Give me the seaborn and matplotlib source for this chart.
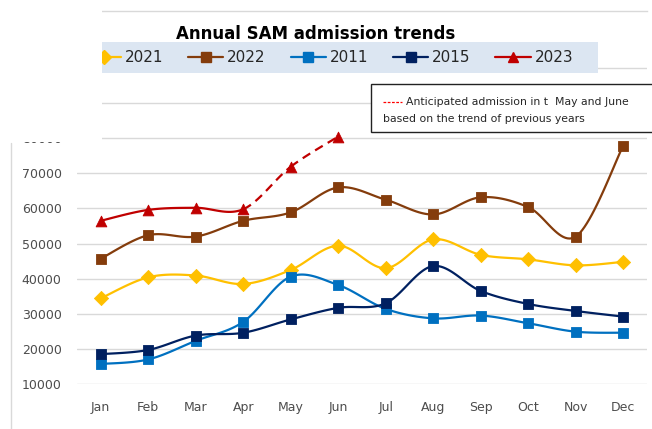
import numpy as np
import seaborn as sns
import matplotlib
matplotlib.use("Agg")
import matplotlib.pyplot as plt
from matplotlib.lines import Line2D
from matplotlib.patches import Rectangle

# values
months = ["Jan", "Feb", "Mar", "Apr", "May", "Jun",
          "Jul", "Aug", "Sep", "Oct", "Nov", "Dec"]
y2021 = [34400, 40400, 40900, 38500, 42500, 49400, 43000, 51200, 46800, 45500, 43800, 44800]
y2022 = [45700, 52400, 52000, 56500, 58900, 66000, 62500, 58300, 63200, 60400, 52000, 77900]
y2011 = [15700, 17000, 22300, 27700, 40600, 38200, 31400, 28700, 29500, 27300, 24900, 24600]
y2015 = [18500, 19700, 23800, 24600, 28400, 31700, 33000, 43600, 36500, 32800, 30800, 29200]
y2023 = [56500, 59600, 60200, 59800, 71900, 80500]
n_actual_2023 = 4  # Jan-Apr measured, May-Jun anticipated
yticks = [10000, 20000, 30000, 40000, 50000, 60000, 70000, 80000, 90000, 100000]

series = [
    ("2021", y2021, "#FFC000", "D"),
    ("2022", y2022, "#843C0C", "s"),
    ("2011", y2011, "#0070C0", "s"),
    ("2015", y2015, "#002060", "s"),
    ("2023", y2023, "#C00000", "^"),
]


def smooth(xv, yv, n=24):
    """Excel-like smoothed line: cubic bezier pieces, one per segment."""
    sy = 10000 * 47.5 / 35.1  # keep x/y scaling close to screen space
    P = np.column_stack([np.asarray(xv, float), np.asarray(yv, float) / sy])
    t = np.linspace(0, 1, n)[:, None]
    pieces = []
    for i in range(len(P) - 1):
        p0 = P[i - 1] if i > 0 else P[i]
        p3 = P[i + 2] if i + 2 < len(P) else P[i + 1]
        c1 = P[i] + (P[i + 1] - p0) / 6
        c2 = P[i + 1] - (p3 - P[i]) / 6
        b = ((1 - t) ** 3) * P[i] + 3 * ((1 - t) ** 2) * t * c1 \
            + 3 * (1 - t) * t ** 2 * c2 + t ** 3 * P[i + 1]
        pieces.append((b[:, 0], b[:, 1] * sy))
    return pieces


sns.set_theme(style="white")
plt.rcParams["font.family"] = ["DejaVu Sans"]

fig = plt.figure(figsize=(6.52, 4.29), dpi=100)
ax = fig.add_axes([77 / 652, 1 - 384 / 429, 570 / 652, (384 - 10.7) / 429])

for name, vals, col, mk in series:
    xs = np.arange(len(vals))
    pieces = smooth(xs, vals)
    if name == "2023":
        solid = pieces[:n_actual_2023 - 1]
        dashed = pieces[n_actual_2023 - 1:]
    else:
        solid, dashed = pieces, []
    for px, py in solid:
        sns.lineplot(x=px, y=py, sort=False, estimator=None, color=col, lw=1.6, ax=ax)
    for px, py in dashed:
        sns.lineplot(x=px, y=py, sort=False, estimator=None, color=col, lw=1.6,
                     dashes=False, ax=ax).lines[-1].set_dashes((4, 2.6))
    ms = 60 if mk == "^" else 52
    sns.scatterplot(x=xs, y=vals, marker=mk, s=ms, color=col, edgecolor=col,
                    linewidth=0.6, ax=ax, zorder=4)

ax.set_xlim(-0.5, 11.5)
ax.set_ylim(10000, 116350)
ax.set_xticks(range(12))
ax.set_xticklabels(months)
ax.set_yticks(yticks)
ax.set_yticklabels([str(v) if v <= 80000 else "" for v in yticks])
ax.yaxis.grid(True, color="#D9D9D9", lw=1)
ax.xaxis.grid(False)
ax.tick_params(axis="both", length=0, labelsize=9, labelcolor="#4d4d4d")
ax.tick_params(axis="y", pad=11)
ax.tick_params(axis="x", pad=12)
for side in ["left", "right", "bottom"]:
    ax.spines[side].set_visible(False)
ax.spines["top"].set_color("#D9D9D9")
ax.spines["top"].set_linewidth(1)
ax.set_xlabel("")
ax.set_ylabel("")

# legend band
fig.patches.append(Rectangle((102 / 652, 1 - 73 / 429), 496 / 652, 31 / 429,
                             transform=fig.transFigure, facecolor="#DCE6F2",
                             edgecolor="none", zorder=2))
handles = [Line2D([0], [0], color=col, lw=1.6, marker=mk, markersize=7.5,
                  markeredgecolor=col) for _, _, col, mk in series]
fig.legend(handles, [s[0] for s in series], loc="center left",
           bbox_to_anchor=(86 / 652, 1 - 57.5 / 429), ncol=5, frameon=False,
           fontsize=11, handlelength=2.3, handletextpad=0.25, columnspacing=1.63,
           borderpad=0, borderaxespad=0)

fig.text(316 / 652, 1 - 34 / 429, "Annual SAM admission trends", ha="center",
         va="center", fontsize=12, fontweight="bold", color="#000000", zorder=3)

# note box
fig.patches.append(Rectangle((371 / 652, 1 - 132 / 429), 290 / 652, 48 / 429,
                             transform=fig.transFigure, facecolor="white",
                             edgecolor="#222222", lw=1, zorder=3))
fig.lines.append(Line2D([383 / 652, 402 / 652], [1 - 102 / 429, 1 - 102 / 429],
                        transform=fig.transFigure, color="#FF0000", lw=0.9,
                        dashes=(2.2, 1.2), zorder=4))
note_font = ["Liberation Sans Narrow", "DejaVu Sans"]
fig.text(406 / 652, 1 - 102 / 429, "Anticipated admission in t  May and June",
         ha="left", va="center", fontsize=7.8, family=note_font, zorder=4)
fig.text(383 / 652, 1 - 119 / 429, "based on the trend of previous years",
         ha="left", va="center", fontsize=7.8, family=note_font, zorder=4)

# white mask top-left and left border line
fig.patches.append(Rectangle((0, 1 - 142 / 429), 102 / 652, 142 / 429,
                             transform=fig.transFigure, facecolor="white",
                             edgecolor="none", zorder=10))
fig.lines.append(Line2D([11 / 652, 11 / 652], [0, 1 - 143 / 429],
                        transform=fig.transFigure, color="#D9D9D9", lw=1))

fig.savefig("out.png", dpi=100)
